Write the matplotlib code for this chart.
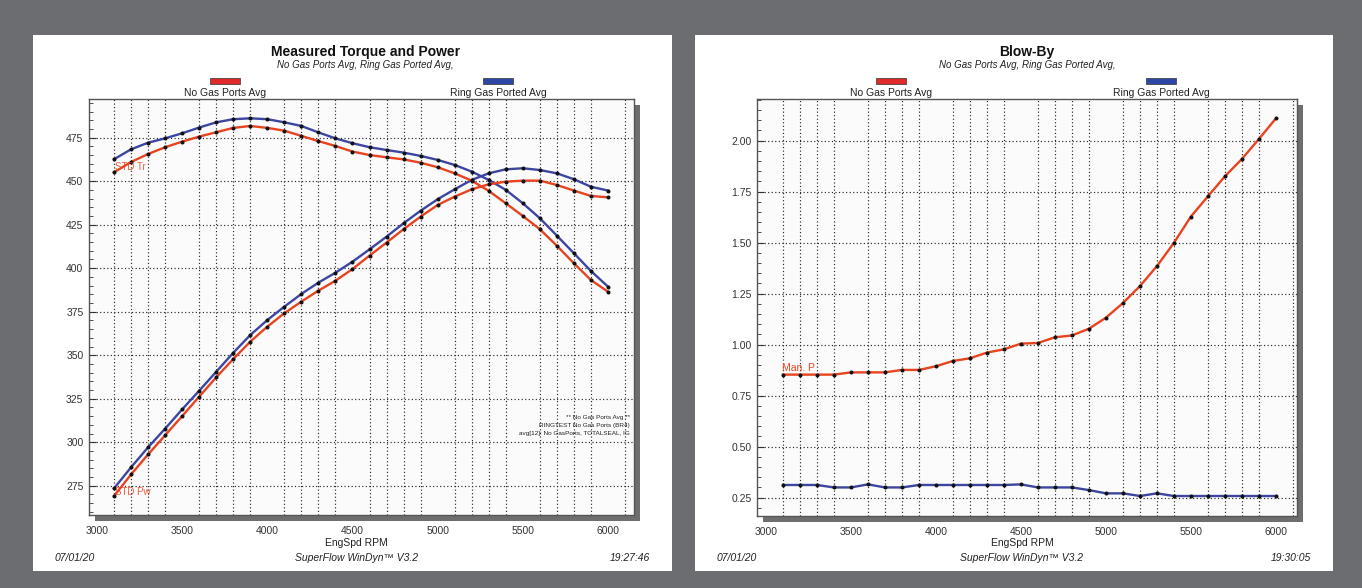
import matplotlib
matplotlib.use('Agg')
import matplotlib.pyplot as plt
from matplotlib.patches import Rectangle

plt.rcParams['font.family'] = ['Liberation Sans', 'DejaVu Sans']

W, H = 1362, 588

rpm = [3100, 3200, 3300, 3400, 3500, 3600, 3700, 3800, 3900, 4000,
       4100, 4200, 4300, 4400, 4500, 4600, 4700, 4800, 4900, 5000,
       5100, 5200, 5300, 5400, 5500, 5600, 5700, 5800, 5900, 6000]

# torque / power, lb-ft and hp
tq_nogas = [455.1, 461.0, 465.6, 469.5, 472.7, 475.6, 478.1, 480.6, 481.7, 480.6,
            479.0, 476.0, 473.0, 470.2, 467.0, 465.0, 463.7, 462.5, 460.6, 458.0,
            454.5, 450.3, 444.4, 437.3, 430.0, 422.4, 412.9, 402.8, 393.2, 386.5]
tq_ring = [462.6, 468.3, 472.1, 474.6, 477.5, 480.8, 483.8, 485.6, 486.1, 485.6,
           483.8, 481.7, 478.0, 474.6, 471.8, 469.5, 467.9, 466.4, 464.5, 462.2,
           459.3, 455.5, 450.7, 445.0, 437.3, 428.7, 418.7, 408.6, 398.4, 389.4]
pw_nogas = [269.1, 281.5, 293.0, 304.0, 315.0, 326.2, 337.3, 347.8, 357.8, 366.4,
            374.1, 380.8, 387.1, 392.8, 399.5, 407.2, 414.7, 422.4, 429.6, 436.3,
            441.1, 445.3, 448.2, 449.7, 450.3, 450.3, 447.8, 444.6, 441.5, 440.7]
pw_ring = [273.5, 285.6, 297.1, 307.8, 318.9, 329.6, 340.5, 351.4, 361.6, 370.2,
           377.9, 385.2, 391.7, 397.4, 403.7, 410.8, 418.1, 425.8, 433.0, 439.6,
           445.3, 450.7, 454.5, 456.8, 457.4, 456.4, 454.5, 451.1, 446.8, 444.6]

# blow-by
bb_nogas = [0.853, 0.853, 0.853, 0.853, 0.864, 0.864, 0.864, 0.876, 0.876, 0.894,
            0.920, 0.933, 0.961, 0.977, 1.005, 1.008, 1.036, 1.045, 1.078, 1.132,
            1.204, 1.287, 1.385, 1.499, 1.628, 1.727, 1.825, 1.910, 2.008, 2.109]
bb_ring = [0.312, 0.312, 0.312, 0.300, 0.300, 0.315, 0.300, 0.300, 0.312, 0.312,
           0.312, 0.312, 0.312, 0.312, 0.315, 0.300, 0.300, 0.300, 0.287, 0.271,
           0.271, 0.258, 0.271, 0.258, 0.258, 0.258, 0.258, 0.258, 0.258, 0.258]

series_names = ['No Gas Ports Avg', 'Ring Gas Ported Avg']
subtitle = 'No Gas Ports Avg, Ring Gas Ported Avg,'
left_yticks = [275, 300, 325, 350, 375, 400, 425, 450, 475]
right_yticks = [0.25, 0.50, 0.75, 1.00, 1.25, 1.50, 1.75, 2.00]
xticks = [3000, 3500, 4000, 4500, 5000, 5500, 6000]

RED = '#e8431f'
BLUE = '#3c45a0'
BOX_RED = '#e02a2a'
BOX_BLUE = '#2c47a6'
GRAY_BG = '#6c6d71'
TXT = '#222222'


def fx(x):
    return x / W


def fy(y):
    return 1 - y / H


fig = plt.figure(figsize=(W / 100, H / 100), dpi=100)
fig.patch.set_facecolor(GRAY_BG)


def panel(x0, x1, ax_box, xlim, ylim, yticks, yfmt, title, stamp, legend_x):
    # white sheet
    fig.patches.append(Rectangle((fx(x0), fy(571)), fx(x1 - x0), 536 / H,
                                 transform=fig.transFigure, facecolor='white',
                                 edgecolor='none', zorder=0))
    a0, b0, a1, b1 = ax_box
    # drop shadow of plot frame
    fig.patches.append(Rectangle((fx(a0 + 6), fy(b1 + 6)), fx(a1 - a0), (b1 - b0) / H,
                                 transform=fig.transFigure, facecolor='#6e6e6e',
                                 edgecolor='none', zorder=1))
    ax = fig.add_axes([fx(a0), fy(b1), fx(a1 - a0), (b1 - b0) / H])
    ax.set_zorder(2)
    ax.set_facecolor('#fbfbfb')
    ax.set_xlim(*xlim)
    ax.set_ylim(*ylim)
    ax.set_xticks(xticks)
    ax.set_xticks(range(3000, 6101, 100), minor=True)
    ax.set_yticks(yticks)
    step = (yticks[1] - yticks[0]) / 5
    minors = []
    v = yticks[0] - 5 * step
    while v < ylim[1]:
        if v > ylim[0]:
            minors.append(v)
        v += step
    ax.set_yticks(minors, minor=True)
    ax.set_yticklabels([yfmt.format(t) for t in yticks])
    ax.tick_params(axis='both', which='both', direction='in', labelsize=7.5,
                   colors='#333333', labelcolor='#333333')
    ax.tick_params(axis='y', which='major', length=5, pad=4)
    ax.tick_params(axis='y', which='minor', length=3)
    ax.tick_params(axis='x', which='major', length=0, pad=8)
    ax.tick_params(axis='x', which='minor', length=0)
    ax.grid(True, axis='x', which='minor', linestyle=(0, (1, 2)), color='#2a2a2a', lw=0.85)
    ax.grid(True, axis='y', which='major', linestyle=(0, (1, 2)), color='#2a2a2a', lw=0.85)
    for s in ax.spines.values():
        s.set_color('#555555')
        s.set_linewidth(1.0)

    cx = (x0 + x1) / 2 + 13
    fig.text(fx(cx), fy(52), title, ha='center', va='center', fontsize=10,
             fontweight='bold', color='#111111')
    fig.text(fx(cx), fy(65), subtitle, ha='center', va='center', fontsize=7,
             style='italic', color=TXT)
    for lx, col, name in zip(legend_x, [BOX_RED, BOX_BLUE], series_names):
        fig.patches.append(Rectangle((fx(lx - 15), fy(84)), fx(30), 6 / H,
                                     transform=fig.transFigure, facecolor=col,
                                     edgecolor='#333333', lw=0.5, zorder=3))
        fig.text(fx(lx), fy(92.5), name, ha='center', va='center', fontsize=7.5, color=TXT)

    fig.text(fx((a0 + a1) / 2 - 5), fy(543), 'EngSpd RPM', ha='center', va='center',
             fontsize=7.5, color=TXT)
    fig.text(fx(x0 + 22), fy(558), '07/01/20', ha='left', va='center', fontsize=7.5,
             style='italic', color=TXT)
    fig.text(fx((a0 + a1) / 2 - 5), fy(558), 'SuperFlow WinDyn\u2122 V3.2', ha='center',
             va='center', fontsize=7.5, style='italic', color=TXT)
    fig.text(fx(x1 - 22), fy(558), stamp, ha='right', va='center', fontsize=7.5,
             style='italic', color=TXT)
    return ax


def curve(ax, y, col):
    ax.plot(rpm, y, color=col, lw=1.7, zorder=3)
    ax.plot(rpm, y, 'o', color='#111111', ms=1.9, zorder=4)


ax1 = panel(33, 672, (89, 99, 634, 515), (2953, 6153), (258.2, 497.2),
            left_yticks, '{:.0f}', 'Measured Torque and Power', '19:27:46', (225, 498))
curve(ax1, tq_ring, BLUE)
curve(ax1, pw_ring, BLUE)
curve(ax1, tq_nogas, RED)
curve(ax1, pw_nogas, RED)
ax1.text(3105, 458.3, 'STD Tr', color=RED, fontsize=7, alpha=0.85,
         va='center', ha='left', zorder=5)
ax1.text(3108, 271.4, 'STD Pw', color=RED, fontsize=7, alpha=0.85,
         va='center', ha='left', zorder=5)
notes = ['** No Gas Ports Avg **', 'RINGTEST No Gas Ports (BR4)',
         'avg[12]: No GasPorts, TOTALSEAL, IG']
for i, line in enumerate(notes):
    ax1.text(6130, 314.5 - i * 4.6, line, fontsize=4.6, ha='right', va='center',
             color='#222222', zorder=5)

ax2 = panel(695, 1333, (757, 99, 1297, 516), (2947, 6124), (0.16, 2.204),
            right_yticks, '{:.2f}', 'Blow-By', '19:30:05', (891, 1161))
curve(ax2, bb_ring, BLUE)
curve(ax2, bb_nogas, RED)
ax2.text(3095, 0.885, 'Man. P', color=RED, fontsize=7.5, va='center', ha='left', zorder=5)

fig.savefig('out.png', dpi=100, facecolor=fig.get_facecolor())
